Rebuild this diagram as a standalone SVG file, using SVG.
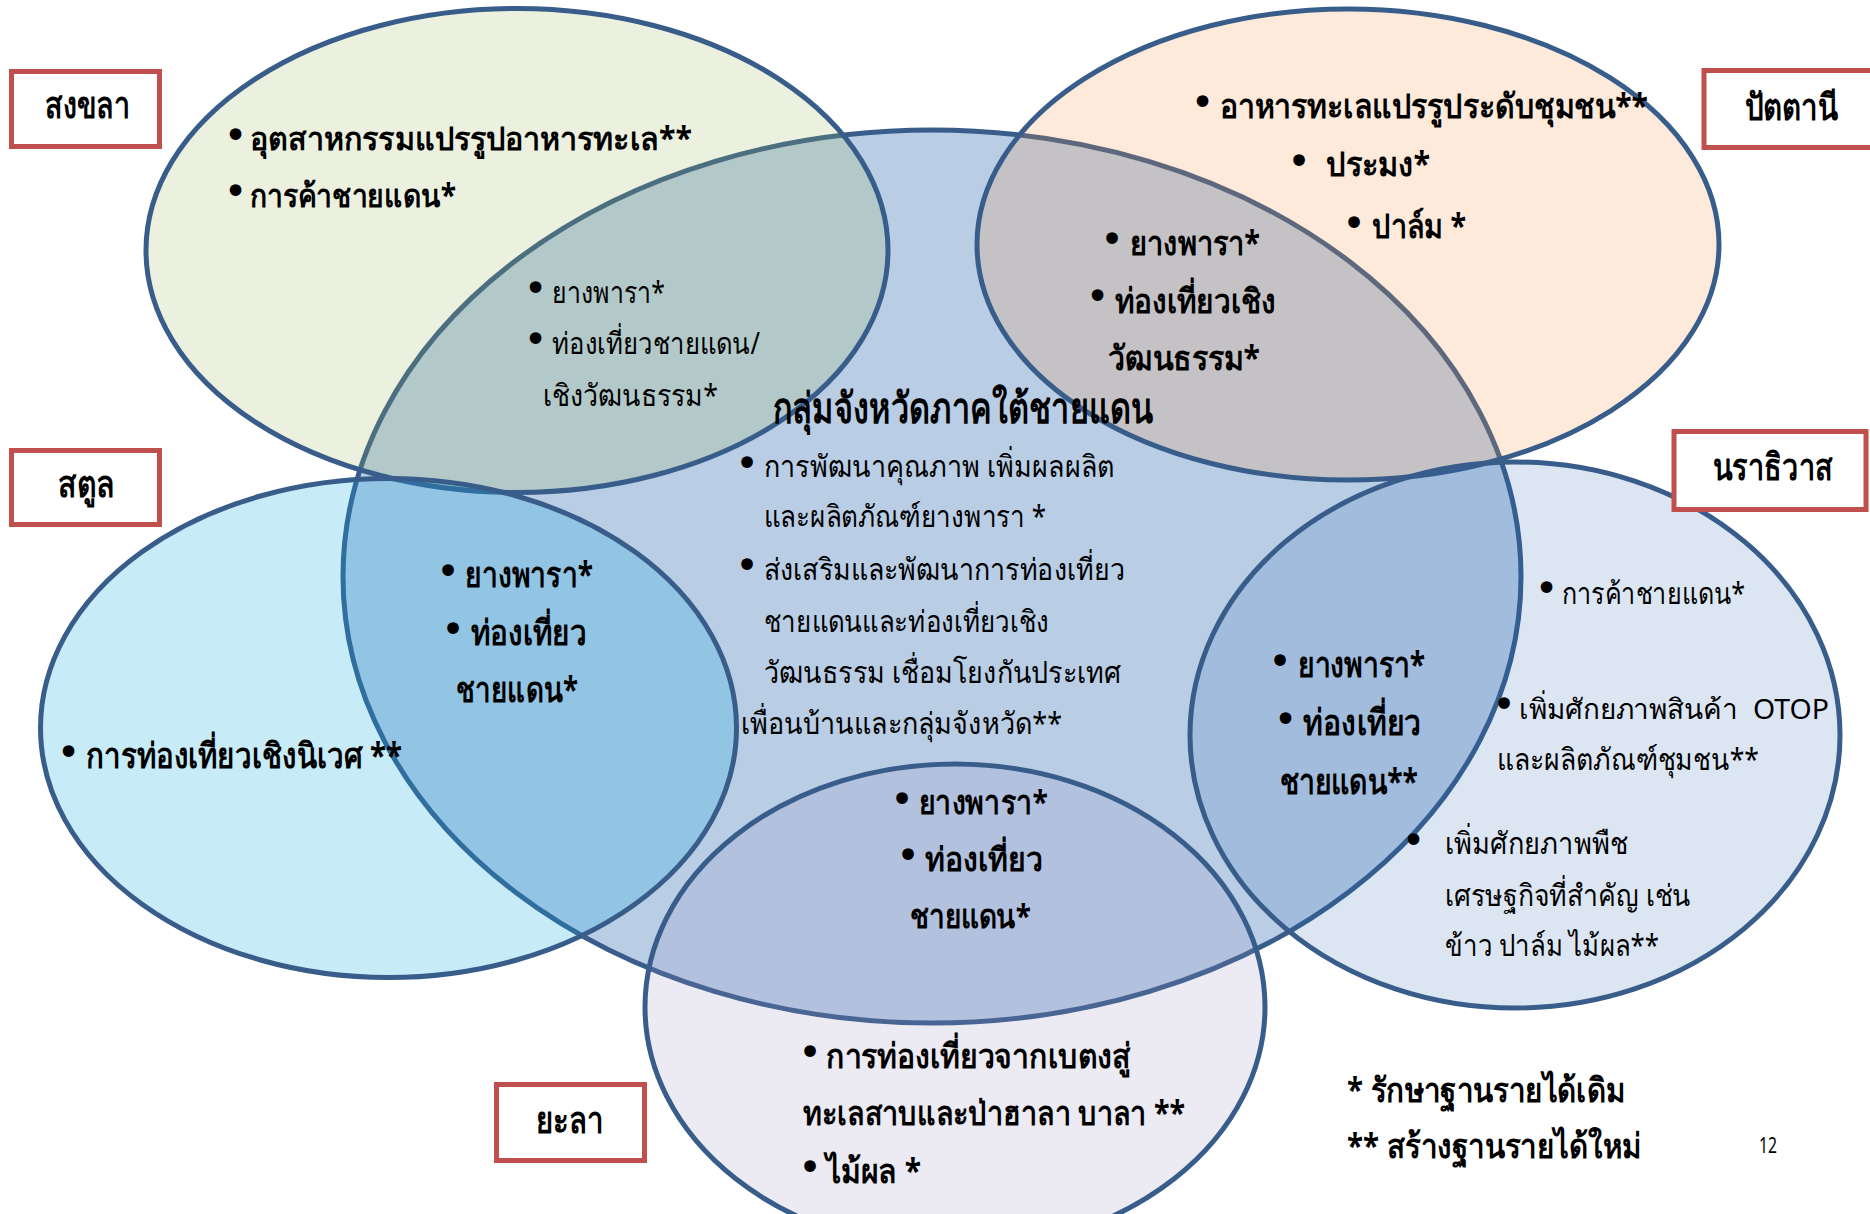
<svg xmlns="http://www.w3.org/2000/svg" width="1870" height="1214" viewBox="0 0 1870 1214">
<style>
.ol{stroke:#385D8A;stroke-width:5}
.box{fill:#FFFFFF;stroke:#C0504D;stroke-width:5}
text{font-family:"Noto Sans","DejaVu Sans",sans-serif;fill:#000000}
.t{font-weight:bold}
.n{font-weight:normal}
.b{font-family:"DejaVu Sans",sans-serif;font-size:40px;text-anchor:middle}
.lab{font-size:37px;font-weight:bold}
</style>
<rect x="0" y="0" width="1870" height="1214" fill="#FFFFFF"/>
<g id="areas">
<g id="center-group"><ellipse class="ol" cx="932" cy="576.5" rx="589" ry="446.5" fill="#4F81BD" fill-opacity="0.4"/></g>
<g id="songkhla"><ellipse class="ol" cx="517" cy="250.5" rx="371" ry="242" fill="#9BBB59" fill-opacity="0.2"/></g>
<g id="pattani"><ellipse class="ol" cx="1348" cy="244.5" rx="371" ry="235.5" fill="#F79646" fill-opacity="0.2"/></g>
<g id="satun"><ellipse class="ol" cx="388.5" cy="728" rx="348" ry="249.5" fill="rgb(16,168,224)" fill-opacity="0.23"/></g>
<g id="narathiwat"><ellipse class="ol" cx="1515" cy="735" rx="325" ry="273" fill="rgb(40,100,180)" fill-opacity="0.16"/></g>
<g id="yala"><ellipse class="ol" cx="955" cy="1007" rx="310" ry="243" fill="rgb(150,140,190)" fill-opacity="0.18"/></g>
</g>
<g id="connectors"></g>
<g id="songkhla-text">
<text class="b" x="235.5" y="148.5">•</text>
<text class="t" x="250" y="150" font-size="32" textLength="442" lengthAdjust="spacingAndGlyphs">อุตสาหกรรมแปรรูปอาหารทะเล**</text>
<text class="b" x="235.5" y="205">•</text>
<text class="t" x="250" y="207" font-size="32" textLength="206" lengthAdjust="spacingAndGlyphs">การค้าชายแดน*</text>
</g>
<g id="songkhla-center-text">
<text class="b" x="535.5" y="301.5">•</text>
<text class="n" x="552" y="303" font-size="30" textLength="113" lengthAdjust="spacingAndGlyphs">ยางพารา*</text>
<text class="b" x="535.5" y="353">•</text>
<text class="n" x="552" y="354" font-size="30" textLength="208" lengthAdjust="spacingAndGlyphs">ท่องเที่ยวชายแดน/</text>
<text class="n" x="543" y="406" font-size="30" textLength="175" lengthAdjust="spacingAndGlyphs">เชิงวัฒนธรรม*</text>
</g>
<g id="center-text">
<text class="t" x="773" y="423" font-size="42" textLength="380" lengthAdjust="spacingAndGlyphs">กลุ่มจังหวัดภาคใต้ชายแดน</text>
<text class="b" x="747" y="476.5">•</text>
<text class="n" x="764" y="477" font-size="30" textLength="350" lengthAdjust="spacingAndGlyphs">การพัฒนาคุณภาพ เพิ่มผลผลิต</text>
<text class="n" x="764" y="527" font-size="30" textLength="282" lengthAdjust="spacingAndGlyphs">และผลิตภัณฑ์ยางพารา *</text>
<text class="b" x="747" y="578.5">•</text>
<text class="n" x="764" y="580" font-size="30" textLength="361" lengthAdjust="spacingAndGlyphs">ส่งเสริมและพัฒนาการท่องเที่ยว</text>
<text class="n" x="764" y="632" font-size="30" textLength="285" lengthAdjust="spacingAndGlyphs">ชายแดนและท่องเที่ยวเชิง</text>
<text class="n" x="764" y="683" font-size="30" textLength="357" lengthAdjust="spacingAndGlyphs">วัฒนธรรม เชื่อมโยงกันประเทศ</text>
<text class="n" x="741" y="734" font-size="30" textLength="321" lengthAdjust="spacingAndGlyphs">เพื่อนบ้านและกลุ่มจังหวัด**</text>
</g>
<g id="pattani-text">
<text class="b" x="1202.5" y="115.5">•</text>
<text class="t" x="1220" y="118" font-size="34" textLength="428" lengthAdjust="spacingAndGlyphs">อาหารทะเลแปรรูประดับชุมชน**</text>
<text class="b" x="1299" y="175">•</text>
<text class="t" x="1326" y="176" font-size="34" textLength="104" lengthAdjust="spacingAndGlyphs">ประมง*</text>
<text class="b" x="1354" y="237">•</text>
<text class="t" x="1372" y="238" font-size="34" textLength="94" lengthAdjust="spacingAndGlyphs">ปาล์ม *</text>
</g>
<g id="pattani-center-text">
<text class="b" x="1112" y="252.5">•</text>
<text class="t" x="1130" y="255" font-size="34" textLength="130" lengthAdjust="spacingAndGlyphs">ยางพารา*</text>
<text class="b" x="1097.5" y="310">•</text>
<text class="t" x="1115" y="313" font-size="34" textLength="161" lengthAdjust="spacingAndGlyphs">ท่องเที่ยวเชิง</text>
<text class="t" x="1108" y="370" font-size="34" textLength="152" lengthAdjust="spacingAndGlyphs">วัฒนธรรม*</text>
</g>
<g id="satun-center-text">
<text class="b" x="448" y="585">•</text>
<text class="t" x="465" y="587" font-size="35" textLength="128" lengthAdjust="spacingAndGlyphs">ยางพารา*</text>
<text class="b" x="453" y="642.5">•</text>
<text class="t" x="471" y="645" font-size="35" textLength="116" lengthAdjust="spacingAndGlyphs">ท่องเที่ยว</text>
<text class="t" x="456" y="702" font-size="35" textLength="122" lengthAdjust="spacingAndGlyphs">ชายแดน*</text>
</g>
<g id="satun-text">
<text class="b" x="68.5" y="765.5">•</text>
<text class="t" x="86" y="768" font-size="35" textLength="316" lengthAdjust="spacingAndGlyphs">การท่องเที่ยวเชิงนิเวศ **</text>
</g>
<g id="narathiwat-center-text">
<text class="b" x="1280" y="674.5">•</text>
<text class="t" x="1298" y="677" font-size="36" textLength="127" lengthAdjust="spacingAndGlyphs">ยางพารา*</text>
<text class="b" x="1285.5" y="733">•</text>
<text class="t" x="1303" y="735" font-size="36" textLength="118" lengthAdjust="spacingAndGlyphs">ท่องเที่ยว</text>
<text class="t" x="1280" y="794" font-size="36" textLength="138" lengthAdjust="spacingAndGlyphs">ชายแดน**</text>
</g>
<g id="narathiwat-text">
<text class="b" x="1546.5" y="602">•</text>
<text class="n" x="1562" y="604" font-size="30" textLength="183" lengthAdjust="spacingAndGlyphs">การค้าชายแดน*</text>
<text class="b" x="1504" y="717.5">•</text>
<text class="n" x="1519" y="719" font-size="28" textLength="219" lengthAdjust="spacingAndGlyphs">เพิ่มศักยภาพสินค้า</text>
<text x="1753" y="719" font-family="Liberation Sans, sans-serif" font-size="27" textLength="76" lengthAdjust="spacingAndGlyphs">OTOP</text>
<text class="n" x="1497" y="770" font-size="30" textLength="262" lengthAdjust="spacingAndGlyphs">และผลิตภัณฑ์ชุมชน**</text>
<text class="b" x="1413.5" y="854">•</text>
<text class="n" x="1445" y="854" font-size="30" textLength="183" lengthAdjust="spacingAndGlyphs">เพิ่มศักยภาพพืช</text>
<text class="n" x="1445" y="906" font-size="30" textLength="246" lengthAdjust="spacingAndGlyphs">เศรษฐกิจที่สำคัญ เช่น</text>
<text class="n" x="1445" y="956" font-size="30" textLength="214" lengthAdjust="spacingAndGlyphs">ข้าว ปาล์ม ไม้ผล**</text>
</g>
<g id="yala-center-text">
<text class="b" x="902" y="812.5">•</text>
<text class="t" x="919" y="814" font-size="33" textLength="129" lengthAdjust="spacingAndGlyphs">ยางพารา*</text>
<text class="b" x="908" y="869">•</text>
<text class="t" x="925" y="871" font-size="33" textLength="118" lengthAdjust="spacingAndGlyphs">ท่องเที่ยว</text>
<text class="t" x="910" y="928" font-size="33" textLength="121" lengthAdjust="spacingAndGlyphs">ชายแดน*</text>
</g>
<g id="yala-text">
<text class="b" x="810" y="1066">•</text>
<text class="t" x="826" y="1068" font-size="34" textLength="305" lengthAdjust="spacingAndGlyphs">การท่องเที่ยวจากเบตงสู่</text>
<text class="t" x="803" y="1125" font-size="34" textLength="382" lengthAdjust="spacingAndGlyphs">ทะเลสาบและป่าฮาลา บาลา **</text>
<text class="b" x="810" y="1180.5">•</text>
<text class="t" x="826" y="1183" font-size="34" textLength="95" lengthAdjust="spacingAndGlyphs">ไม้ผล *</text>
</g>
<g id="label-songkhla"><rect class="box" x="11.5" y="71.5" width="148" height="75"/><text class="lab" x="45" y="118" textLength="85" lengthAdjust="spacingAndGlyphs">สงขลา</text></g>
<g id="label-satun"><rect class="box" x="11.5" y="450.5" width="148" height="74"/><text class="lab" x="58" y="497" textLength="57" lengthAdjust="spacingAndGlyphs">สตูล</text></g>
<g id="label-pattani"><rect class="box" x="1704" y="70.5" width="200" height="77"/><text class="lab" x="1745" y="120" textLength="93" lengthAdjust="spacingAndGlyphs">ปัตตานี</text></g>
<g id="label-narathiwat"><rect class="box" x="1674" y="431.5" width="192" height="78"/><text class="lab" x="1713" y="480" textLength="120" lengthAdjust="spacingAndGlyphs">นราธิวาส</text></g>
<g id="label-yala"><rect class="box" x="496.5" y="1084.5" width="148" height="76"/><text class="lab" x="536" y="1133" textLength="68" lengthAdjust="spacingAndGlyphs">ยะลา</text></g>
<g id="legend">
<text class="t" x="1347" y="1102" font-size="34" textLength="278" lengthAdjust="spacingAndGlyphs">* รักษาฐานรายได้เดิม</text>
<text class="t" x="1347" y="1158" font-size="34" textLength="294" lengthAdjust="spacingAndGlyphs">** สร้างฐานรายได้ใหม่</text>
<text x="1759" y="1153" font-family="Liberation Serif, serif" font-size="22" fill="#A0A0A0" textLength="18" lengthAdjust="spacingAndGlyphs">12</text>
</g>
</svg>
